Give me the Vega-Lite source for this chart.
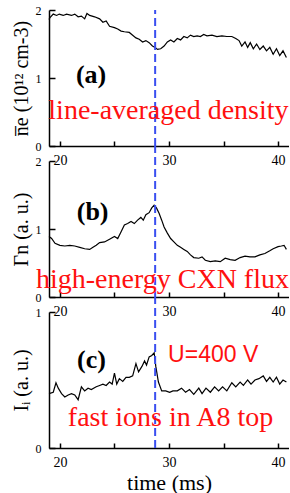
{
  "$schema": "https://vega.github.io/schema/vega-lite/v6.json",
  "padding": {"left": 11, "top": 4, "right": 0, "bottom": 0},
  "background": "white",
  "bounds": "flush",
  "spacing": 15,
  "config": {
    "view": {"stroke": null},
    "font": "Liberation Serif",
    "axis": {
      "grid": false,
      "domainColor": "black",
      "domainWidth": 1.5,
      "tickColor": "black",
      "tickWidth": 1.5,
      "labelColor": "black",
      "labelFont": "Liberation Serif",
      "titleFont": "Liberation Serif",
      "titleColor": "black",
      "titleFontWeight": "normal",
      "format": "d"
    },
    "axisX": {"tickSize": -5, "labelFontSize": 14, "labelPadding": 12, "values": [20, 25, 30, 35, 40], "labelExpr": "datum.value % 10 == 0 ? datum.label : ''", "labelFlush": false},
    "axisY": {"tickSize": -6, "labelFontSize": 12, "labelPadding": 14, "titleFontSize": 20, "titlePadding": 4}
  },
  "datasets": {
    "one": [{"k": 1}],
    "a": [
      {"t": 19.00, "v": 1.86}, {"t": 19.09, "v": 1.89}, {"t": 19.39, "v": 1.94}, {"t": 19.70, "v": 1.92}, {"t": 19.94, "v": 1.94},
      {"t": 20.30, "v": 1.92}, {"t": 20.61, "v": 1.94}, {"t": 21.06, "v": 1.92}, {"t": 21.36, "v": 1.94}, {"t": 21.67, "v": 1.90},
      {"t": 21.97, "v": 1.91}, {"t": 22.27, "v": 1.87}, {"t": 22.48, "v": 1.95}, {"t": 22.73, "v": 1.92}, {"t": 23.18, "v": 1.90},
      {"t": 23.64, "v": 1.87}, {"t": 23.94, "v": 1.82}, {"t": 24.24, "v": 1.84}, {"t": 24.55, "v": 1.76}, {"t": 25.00, "v": 1.74},
      {"t": 25.30, "v": 1.72}, {"t": 25.61, "v": 1.69}, {"t": 25.91, "v": 1.68}, {"t": 26.36, "v": 1.67}, {"t": 26.67, "v": 1.63},
      {"t": 26.97, "v": 1.59}, {"t": 27.27, "v": 1.57}, {"t": 27.58, "v": 1.53}, {"t": 27.88, "v": 1.55}, {"t": 28.18, "v": 1.52},
      {"t": 28.48, "v": 1.47}, {"t": 28.73, "v": 1.45}, {"t": 28.94, "v": 1.42}, {"t": 29.24, "v": 1.43}, {"t": 29.55, "v": 1.47},
      {"t": 29.85, "v": 1.53}, {"t": 30.15, "v": 1.56}, {"t": 30.45, "v": 1.53}, {"t": 30.76, "v": 1.58}, {"t": 31.06, "v": 1.56},
      {"t": 31.36, "v": 1.61}, {"t": 31.67, "v": 1.59}, {"t": 31.97, "v": 1.63}, {"t": 32.27, "v": 1.61}, {"t": 32.58, "v": 1.62},
      {"t": 32.88, "v": 1.61}, {"t": 33.18, "v": 1.64}, {"t": 33.48, "v": 1.62}, {"t": 33.94, "v": 1.63}, {"t": 34.39, "v": 1.61},
      {"t": 34.85, "v": 1.62}, {"t": 35.30, "v": 1.61}, {"t": 35.76, "v": 1.61}, {"t": 36.12, "v": 1.58}, {"t": 36.42, "v": 1.55},
      {"t": 36.67, "v": 1.47}, {"t": 36.97, "v": 1.53}, {"t": 37.21, "v": 1.45}, {"t": 37.45, "v": 1.52}, {"t": 37.73, "v": 1.43},
      {"t": 38.03, "v": 1.50}, {"t": 38.33, "v": 1.42}, {"t": 38.64, "v": 1.47}, {"t": 38.94, "v": 1.40}, {"t": 39.24, "v": 1.45},
      {"t": 39.55, "v": 1.35}, {"t": 39.85, "v": 1.43}, {"t": 40.15, "v": 1.33}, {"t": 40.45, "v": 1.40}, {"t": 40.76, "v": 1.30}
    ],
    "b": [
      {"t": 19.00, "v": 0.89}, {"t": 19.24, "v": 0.86}, {"t": 19.55, "v": 0.79}, {"t": 20.00, "v": 0.76}, {"t": 20.45, "v": 0.75},
      {"t": 20.91, "v": 0.76}, {"t": 21.36, "v": 0.75}, {"t": 21.82, "v": 0.73}, {"t": 22.27, "v": 0.71}, {"t": 22.73, "v": 0.70},
      {"t": 23.03, "v": 0.73}, {"t": 23.33, "v": 0.76}, {"t": 23.64, "v": 0.80}, {"t": 24.09, "v": 0.81}, {"t": 24.55, "v": 0.85},
      {"t": 25.00, "v": 0.89}, {"t": 25.30, "v": 0.86}, {"t": 25.61, "v": 0.96}, {"t": 25.91, "v": 1.06}, {"t": 26.21, "v": 1.08},
      {"t": 26.52, "v": 1.11}, {"t": 26.82, "v": 1.08}, {"t": 27.12, "v": 1.13}, {"t": 27.42, "v": 1.17}, {"t": 27.64, "v": 1.13},
      {"t": 27.88, "v": 1.21}, {"t": 28.18, "v": 1.24}, {"t": 28.42, "v": 1.31}, {"t": 28.64, "v": 1.35}, {"t": 28.85, "v": 1.31},
      {"t": 29.09, "v": 1.23}, {"t": 29.33, "v": 1.13}, {"t": 29.55, "v": 1.03}, {"t": 29.85, "v": 0.94}, {"t": 30.15, "v": 0.86},
      {"t": 30.45, "v": 0.81}, {"t": 30.76, "v": 0.76}, {"t": 31.06, "v": 0.73}, {"t": 31.36, "v": 0.70}, {"t": 31.67, "v": 0.67},
      {"t": 31.97, "v": 0.62}, {"t": 32.27, "v": 0.58}, {"t": 32.73, "v": 0.57}, {"t": 33.03, "v": 0.59}, {"t": 33.33, "v": 0.54},
      {"t": 33.79, "v": 0.52}, {"t": 34.24, "v": 0.53}, {"t": 34.70, "v": 0.52}, {"t": 35.15, "v": 0.57}, {"t": 35.61, "v": 0.55},
      {"t": 36.06, "v": 0.54}, {"t": 36.52, "v": 0.58}, {"t": 36.97, "v": 0.60}, {"t": 37.42, "v": 0.59}, {"t": 37.88, "v": 0.59},
      {"t": 38.33, "v": 0.62}, {"t": 38.79, "v": 0.64}, {"t": 39.24, "v": 0.68}, {"t": 39.55, "v": 0.71}, {"t": 40.00, "v": 0.74},
      {"t": 40.30, "v": 0.75}, {"t": 40.55, "v": 0.76}, {"t": 40.76, "v": 0.70}
    ],
    "c": [
      {"t": 19.00, "v": 0.40}, {"t": 19.39, "v": 0.41}, {"t": 19.64, "v": 0.48}, {"t": 19.85, "v": 0.44}, {"t": 20.15, "v": 0.40},
      {"t": 20.45, "v": 0.375}, {"t": 20.76, "v": 0.39}, {"t": 21.06, "v": 0.40}, {"t": 21.36, "v": 0.39}, {"t": 21.67, "v": 0.355},
      {"t": 21.97, "v": 0.45}, {"t": 22.27, "v": 0.42}, {"t": 22.58, "v": 0.44}, {"t": 22.88, "v": 0.43}, {"t": 23.33, "v": 0.45},
      {"t": 23.64, "v": 0.46}, {"t": 23.94, "v": 0.47}, {"t": 24.24, "v": 0.46}, {"t": 24.55, "v": 0.485}, {"t": 24.79, "v": 0.47},
      {"t": 25.00, "v": 0.55}, {"t": 25.21, "v": 0.47}, {"t": 25.45, "v": 0.51}, {"t": 25.76, "v": 0.49}, {"t": 26.06, "v": 0.52},
      {"t": 26.36, "v": 0.52}, {"t": 26.67, "v": 0.53}, {"t": 26.97, "v": 0.62}, {"t": 27.21, "v": 0.56}, {"t": 27.52, "v": 0.60},
      {"t": 27.76, "v": 0.64}, {"t": 27.94, "v": 0.61}, {"t": 28.18, "v": 0.67}, {"t": 28.42, "v": 0.68}, {"t": 28.64, "v": 0.70},
      {"t": 28.79, "v": 0.60}, {"t": 29.03, "v": 0.485}, {"t": 29.33, "v": 0.42}, {"t": 29.70, "v": 0.42}, {"t": 30.06, "v": 0.41},
      {"t": 30.36, "v": 0.42}, {"t": 30.76, "v": 0.42}, {"t": 31.15, "v": 0.44}, {"t": 31.52, "v": 0.41}, {"t": 31.88, "v": 0.43},
      {"t": 32.27, "v": 0.395}, {"t": 32.73, "v": 0.44}, {"t": 33.03, "v": 0.40}, {"t": 33.39, "v": 0.44}, {"t": 33.79, "v": 0.41},
      {"t": 34.18, "v": 0.45}, {"t": 34.55, "v": 0.42}, {"t": 34.91, "v": 0.45}, {"t": 35.30, "v": 0.42}, {"t": 35.76, "v": 0.48},
      {"t": 36.12, "v": 0.45}, {"t": 36.52, "v": 0.485}, {"t": 36.82, "v": 0.46}, {"t": 37.21, "v": 0.50}, {"t": 37.52, "v": 0.47},
      {"t": 37.88, "v": 0.50}, {"t": 38.24, "v": 0.51}, {"t": 38.64, "v": 0.53}, {"t": 38.94, "v": 0.49}, {"t": 39.24, "v": 0.52},
      {"t": 39.55, "v": 0.485}, {"t": 39.85, "v": 0.52}, {"t": 40.15, "v": 0.47}, {"t": 40.45, "v": 0.50}, {"t": 40.76, "v": 0.485}
    ]
  },
  "vconcat": [
    {
      "width": 240,
      "height": 136,
      "layer": [
        {
          "data": {"name": "a"},
          "mark": {"type": "line", "color": "black", "strokeWidth": 1.2},
          "encoding": {
            "x": {"field": "t", "type": "quantitative", "scale": {"domain": [19, 41], "nice": false, "zero": false}, "axis": {"title": null}},
            "y": {"field": "v", "type": "quantitative", "scale": {"domain": [0, 2], "nice": false}, "axis": {"title": "n̅e (10¹² cm-3)", "values": [0, 1, 2]}}
          }
        },
        {
          "data": {"name": "one"},
          "mark": {"type": "rule", "color": "#3a4ff0", "strokeWidth": 2, "strokeDash": [8, 4]},
          "encoding": {"x": {"datum": 28.73}, "y": {"datum": 0}, "y2": {"datum": 2}}
        },
        {
          "data": {"name": "one"},
          "mark": {"type": "text", "text": "(a)", "fontSize": 26, "fontWeight": "bold", "color": "black", "baseline": "alphabetic"},
          "encoding": {"x": {"datum": 22.86}, "y": {"datum": 0.92}}
        },
        {
          "data": {"name": "one"},
          "mark": {"type": "text", "text": "line-averaged density", "fontSize": 28, "color": "#ff1010", "baseline": "alphabetic"},
          "encoding": {"x": {"datum": 29.95}, "y": {"datum": 0.40}}
        }
      ]
    },
    {
      "width": 240,
      "height": 136,
      "layer": [
        {
          "data": {"name": "b"},
          "mark": {"type": "line", "color": "black", "strokeWidth": 1.2},
          "encoding": {
            "x": {"field": "t", "type": "quantitative", "scale": {"domain": [19, 41], "nice": false, "zero": false}, "axis": {"title": null}},
            "y": {"field": "v", "type": "quantitative", "scale": {"domain": [0, 2], "nice": false}, "axis": {"title": "Γn (a. u.)", "values": [0, 1, 2]}}
          }
        },
        {
          "data": {"name": "one"},
          "mark": {"type": "rule", "color": "#3a4ff0", "strokeWidth": 2, "strokeDash": [8, 4]},
          "encoding": {"x": {"datum": 28.73}, "y": {"datum": 0}, "y2": {"datum": 2.22}}
        },
        {
          "data": {"name": "one"},
          "mark": {"type": "text", "text": "(b)", "fontSize": 26, "fontWeight": "bold", "color": "black", "baseline": "alphabetic"},
          "encoding": {"x": {"datum": 23.0}, "y": {"datum": 1.13}}
        },
        {
          "data": {"name": "one"},
          "mark": {"type": "text", "text": "high-energy CXN flux", "fontSize": 28, "color": "#ff1010", "baseline": "alphabetic"},
          "encoding": {"x": {"datum": 29.4}, "y": {"datum": 0.13}}
        }
      ]
    },
    {
      "width": 240,
      "height": 136,
      "layer": [
        {
          "data": {"name": "c"},
          "mark": {"type": "line", "color": "black", "strokeWidth": 1.2},
          "encoding": {
            "x": {"field": "t", "type": "quantitative", "scale": {"domain": [19, 41], "nice": false, "zero": false}, "axis": {"title": "time (ms)", "titleFontSize": 22, "titlePadding": 3}},
            "y": {"field": "v", "type": "quantitative", "scale": {"domain": [0, 1], "nice": false}, "axis": {"title": "Iᵢ (a. u.)", "values": [0, 1]}}
          }
        },
        {
          "data": {"name": "one"},
          "mark": {"type": "rule", "color": "#3a4ff0", "strokeWidth": 2, "strokeDash": [8, 4]},
          "encoding": {"x": {"datum": 28.73}, "y": {"datum": 0}, "y2": {"datum": 1.11}}
        },
        {
          "data": {"name": "one"},
          "mark": {"type": "text", "text": "(c)", "fontSize": 26, "fontWeight": "bold", "color": "black", "baseline": "alphabetic"},
          "encoding": {"x": {"datum": 22.9}, "y": {"datum": 0.586}}
        },
        {
          "data": {"name": "one"},
          "mark": {"type": "text", "text": "U=400 V", "font": "Liberation Sans", "fontSize": 23, "color": "#ff1010", "baseline": "alphabetic"},
          "encoding": {"x": {"datum": 34.05}, "y": {"datum": 0.63}}
        },
        {
          "data": {"name": "one"},
          "mark": {"type": "text", "text": "fast ions in A8 top", "fontSize": 28, "color": "#ff1010", "baseline": "alphabetic"},
          "encoding": {"x": {"datum": 30.14}, "y": {"datum": 0.16}}
        }
      ]
    }
  ]
}
